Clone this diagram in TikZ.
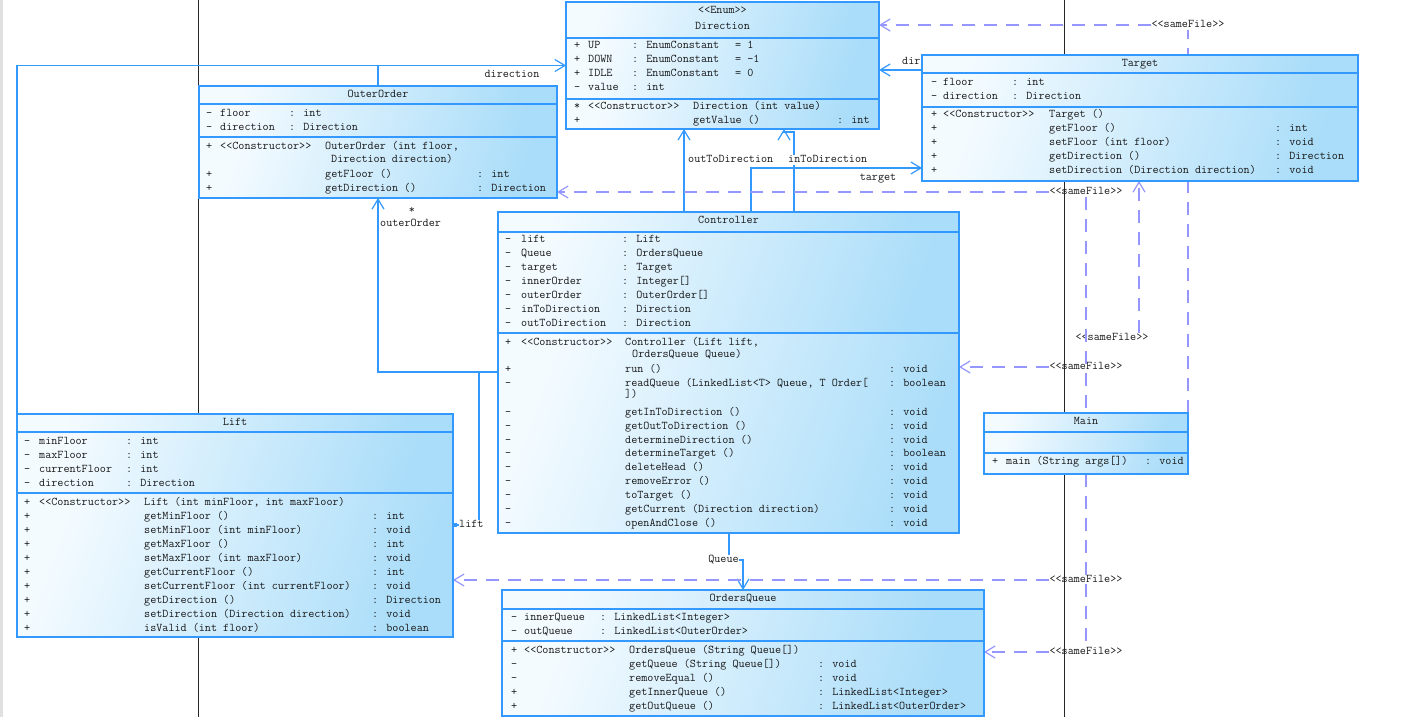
\documentclass[tikz,border=0pt]{standalone}
\usepackage{fontspec}
\usetikzlibrary{arrows.meta, backgrounds}

\definecolor{umlblue}{RGB}{51,153,255}
\definecolor{umllight}{RGB}{244,251,255}
\definecolor{umldark}{RGB}{170,221,249}
\definecolor{samefile}{RGB}{150,150,255}
\definecolor{umltext}{RGB}{25,25,25}

\newcommand{\umlfont}{\ttfamily\fontsize{11.8}{14}\selectfont\addfontfeatures{FakeBold=0.35}}

\tikzset{
  frame/.style={rectangle, inner sep=0pt, outer sep=0pt, anchor=north west},
  comp/.style={rectangle, draw=umlblue, line width=1.2pt, inner sep=0pt, outer sep=0pt,
    anchor=north west, top color=umllight, bottom color=umldark, shading angle=70},
  txt/.style={font=\umlfont, text=umltext, inner sep=0pt, text height=8pt, text depth=2.5pt, anchor=west},
  title/.style={txt, anchor=center},
  lbl/.style={txt, anchor=center},
  pageline/.style={draw=black!85, line width=1pt},
  assocline/.style={draw=umlblue, line width=1.2pt},
  assoc/.style={assocline, -{Straight Barb[length=10pt,width=12pt]}},
  depline/.style={draw=samefile, line width=1.2pt, dash pattern=on 13pt off 9pt},
  dep/.style={depline, -{Straight Barb[length=10pt,width=12pt]}}
}

% one class: name, left, top, width, heights of the three compartments
\newcommand{\umlclass}[7]{%
  \pgfmathsetmacro{\classh}{#5+#6+#7}%
  \node[frame, minimum width=#4pt, minimum height=\classh pt] (#1) at (#2,#3) {};
  \node[comp, minimum width=#4pt, minimum height=#5pt] (#1-h) at (#2,#3) {};
  \node[comp, minimum width=#4pt, minimum height=#6pt] (#1-a) at (#1-h.south west) {};
  \node[comp, minimum width=#4pt, minimum height=#7pt] (#1-m) at (#1-a.south west) {};
}

\begin{document}
\begin{tikzpicture}[x=1pt, y=-1pt]
\useasboundingbox (0,0) rectangle (1423,717);

% Direction
\umlclass{dir}{566}{2}{313}{36}{61}{30}
\node[title] (dir-st) at (722.5,11) {<<Enum>>};
\node[title] (dir-t) at (722.5,27) {Direction};
\foreach \vs/\nm/\ty/\ex [count=\i] in {+/UP/{: EnumConstant}/{= 1}, +/DOWN/{: EnumConstant}/{= -1},
    +/IDLE/{: EnumConstant}/{= 0}, -/value/{: int}/{}} {
  \node[txt] (dir-av\i) at (574,{32+14*\i}) {\vs};
  \node[txt] (dir-an\i) at (588,{32+14*\i}) {\nm};
  \node[txt] (dir-at\i) at (632,{32+14*\i}) {\ty};
  \node[txt] (dir-ae\i) at (735,{32+14*\i}) {\ex};
}
\node[txt] (dir-mv1) at (574,107) {*};
\node[txt] (dir-ms1) at (588,107) {<<Constructor>>};
\node[txt] (dir-mn1) at (693,107) {Direction (int value)};
\node[txt] (dir-mv2) at (574,121) {+};
\node[txt] (dir-mn2) at (693,121) {getValue ()};
\node[txt] (dir-mr2) at (837,121) {: int};

% OuterOrder
\umlclass{outer}{199}{86}{358}{18}{33}{61}
\node[title] (outer-t) at (378,95) {OuterOrder};
\foreach \nm/\ty [count=\i] in {floor/{: int}, direction/{: Direction}} {
  \node[txt] (outer-av\i) at (206,{100+14*\i}) {-};
  \node[txt] (outer-an\i) at (220,{100+14*\i}) {\nm};
  \node[txt] (outer-at\i) at (289,{100+14*\i}) {\ty};
}
\node[txt] (outer-mv1) at (206,147) {+};
\node[txt] (outer-ms1) at (220,147) {<<Constructor>>};
\node[txt] (outer-mn1) at (325,147) {OuterOrder (int floor,};
\node[txt] (outer-mc1) at (331,160) {Direction direction)};
\node[txt] (outer-mv2) at (206,175) {+};
\node[txt] (outer-mn2) at (325,175) {getFloor ()};
\node[txt] (outer-mr2) at (477,175) {: int};
\node[txt] (outer-mv3) at (206,189) {+};
\node[txt] (outer-mn3) at (325,189) {getDirection ()};
\node[txt] (outer-mr3) at (477,189) {: Direction};

% Target
\umlclass{target}{922}{55}{436}{18}{34}{74}
\node[title] (target-t) at (1140,64) {Target};
\foreach \nm/\ty [count=\i] in {floor/{: int}, direction/{: Direction}} {
  \node[txt] (target-av\i) at (931,{69+14*\i}) {-};
  \node[txt] (target-an\i) at (943,{69+14*\i}) {\nm};
  \node[txt] (target-at\i) at (1012,{69+14*\i}) {\ty};
}
\node[txt] (target-ms1) at (943,115) {<<Constructor>>};
\foreach \nm/\rt [count=\i] in {{Target ()}/{}, {getFloor ()}/{: int}, {setFloor (int floor)}/{: void},
    {getDirection ()}/{: Direction}, {setDirection (Direction direction)}/{: void}} {
  \node[txt] (target-mv\i) at (931,{101+14*\i}) {+};
  \node[txt] (target-mn\i) at (1049,{101+14*\i}) {\nm};
  \node[txt] (target-mr\i) at (1275,{101+14*\i}) {\rt};
}

% Controller
\umlclass{ctrl}{498}{212}{461}{20}{101}{200}
\node[title] (ctrl-t) at (728.5,221) {Controller};
\foreach \nm/\ty [count=\i] in {lift/{: Lift}, Queue/{: OrdersQueue}, target/{: Target},
    innerOrder/{: Integer[]}, outerOrder/{: OuterOrder[]}, inToDirection/{: Direction},
    outToDirection/{: Direction}} {
  \node[txt] (ctrl-av\i) at (505,{226+14*\i}) {-};
  \node[txt] (ctrl-an\i) at (521,{226+14*\i}) {\nm};
  \node[txt] (ctrl-at\i) at (622,{226+14*\i}) {\ty};
}
\node[txt] (ctrl-mv0) at (505,343) {+};
\node[txt] (ctrl-ms0) at (521,343) {<<Constructor>>};
\node[txt] (ctrl-mn0) at (625,343) {Controller (Lift lift,};
\node[txt] (ctrl-mc0) at (632,355) {OrdersQueue Queue)};
\foreach \y/\vs/\nm/\rt [count=\i] in {370/+/{run ()}/{: void},
    384/-/{readQueue (LinkedList<T> Queue, T Order[}/{: boolean},
    413/-/{getInToDirection ()}/{: void}, 427/-/{getOutToDirection ()}/{: void},
    441/-/{determineDirection ()}/{: void}, 454/-/{determineTarget ()}/{: boolean},
    468/-/{deleteHead ()}/{: void}, 482/-/{removeError ()}/{: void},
    496/-/{toTarget ()}/{: void}, 510/-/{getCurrent (Direction direction)}/{: void},
    524/-/{openAndClose ()}/{: void}} {
  \node[txt] (ctrl-mv\i) at (505,\y) {\vs};
  \node[txt] (ctrl-mn\i) at (625,\y) {\nm};
  \node[txt] (ctrl-mr\i) at (889,\y) {\rt};
}
\node[txt] (ctrl-mc2) at (625,395) {])};

% Main
\umlclass{mainc}{984}{413}{204}{19}{21}{21}
\node[title] (mainc-t) at (1086,422) {Main};
\node[txt] (mainc-mv1) at (992,462) {+};
\node[txt] (mainc-mn1) at (1006,462) {main (String args[])};
\node[txt] (mainc-mr1) at (1145,462) {: void};

% Lift
\umlclass{lift}{17}{414}{436}{18}{61}{144}
\node[title] (lift-t) at (235,423) {Lift};
\foreach \nm/\ty [count=\i] in {minFloor/{: int}, maxFloor/{: int}, currentFloor/{: int},
    direction/{: Direction}} {
  \node[txt] (lift-av\i) at (24,{428+14*\i}) {-};
  \node[txt] (lift-an\i) at (39,{428+14*\i}) {\nm};
  \node[txt] (lift-at\i) at (126,{428+14*\i}) {\ty};
}
\node[txt] (lift-ms1) at (39,503) {<<Constructor>>};
\foreach \nm/\rt [count=\i] in {{Lift (int minFloor, int maxFloor)}/{}, {getMinFloor ()}/{: int},
    {setMinFloor (int minFloor)}/{: void}, {getMaxFloor ()}/{: int},
    {setMaxFloor (int maxFloor)}/{: void}, {getCurrentFloor ()}/{: int},
    {setCurrentFloor (int currentFloor)}/{: void}, {getDirection ()}/{: Direction},
    {setDirection (Direction direction)}/{: void}, {isValid (int floor)}/{: boolean}} {
  \node[txt] (lift-mv\i) at (24,{489+14*\i}) {+};
  \node[txt] (lift-mn\i) at (144,{489+14*\i}) {\nm};
  \node[txt] (lift-mr\i) at (372,{489+14*\i}) {\rt};
}

% OrdersQueue
\umlclass{oq}{502}{590}{482}{19}{32}{75}
\node[title] (oq-t) at (743,599) {OrdersQueue};
\foreach \nm/\ty [count=\i] in {innerQueue/{: LinkedList<Integer>}, outQueue/{: LinkedList<OuterOrder>}} {
  \node[txt] (oq-av\i) at (511,{604+14*\i}) {-};
  \node[txt] (oq-an\i) at (524,{604+14*\i}) {\nm};
  \node[txt] (oq-at\i) at (600,{604+14*\i}) {\ty};
}
\node[txt] (oq-ms1) at (524,651) {<<Constructor>>};
\foreach \vs/\nm/\rt [count=\i] in {+/{OrdersQueue (String Queue[])}/{}, -/{getQueue (String Queue[])}/{: void},
    -/{removeEqual ()}/{: void}, +/{getInnerQueue ()}/{: LinkedList<Integer>},
    +/{getOutQueue ()}/{: LinkedList<OuterOrder>}} {
  \node[txt] (oq-mv\i) at (511,{637+14*\i}) {\vs};
  \node[txt] (oq-mn\i) at (629,{637+14*\i}) {\nm};
  \node[txt] (oq-mr\i) at (818,{637+14*\i}) {\rt};
}

\begin{pgfonlayer}{background}
  \fill[white] (0,0) rectangle (1423,717);
  \fill[black!12] (0,0) rectangle (3,717);
  \draw[pageline] (198,0) -- (198,717);
  \draw[pageline] (1064,0) -- (1064,717);

  % associations
  \draw[assoc] (outer.north) |- (dir.west);
  \draw[assocline] (lift.north west) |- (outer.north |- dir.west);
  \node[lbl] (lbl-dir1) at (512,75) {direction};
  \node[txt] (lbl-dir2) at (902,62) {direction};
  \draw[assoc] (target.west |- 0,70) -- (dir.east |- 0,70);

  \draw[assoc] (ctrl.north -| 684,0) -- (dir.south -| 684,0);
  \node[txt] (lbl-out) at (688,160) {outToDirection};
  \draw[assoc] (ctrl.north -| 794,0) |- ([yshift=-3pt]dir.south -| 784,0) -- (dir.south -| 784,0);
  \node[txt, fill=white] (lbl-in) at (788,160) {inToDirection};
  \draw[assoc] (ctrl.north -| 751,0) |- (target.west |- 0,168);
  \node[lbl] (lbl-tgt) at (878,178) {target};

  \draw[assoc] (ctrl.west |- 0,372) -| (outer.south);
  \node[lbl] (lbl-star) at (412,211) {*};
  \node[txt] (lbl-oo) at (380,224) {outerOrder};
  \draw[assocline, -{Square[length=3.5pt,width=3.5pt]}] (ctrl.west |- 0,372) -| (479,525) -- (lift.east |- 0,525);
  \node[txt, fill=white] (lbl-lift) at (459,525) {lift};
  \draw[assoc] (ctrl.south -| 729,0) |- (743,560) -- (oq.north -| 743,0);
  \node[lbl, fill=white] (lbl-q) at (723.5,560) {Queue};

  % sameFile dependencies of Main
  \node[lbl] (sf1) at (1086,192) {<<sameFile>>};
  \node[lbl] (sf2) at (1112,338) {<<sameFile>>};
  \node[lbl] (sf3) at (1086,367) {<<sameFile>>};
  \node[lbl] (sf4) at (1188,25) {<<sameFile>>};
  \node[lbl] (sf5) at (1086,580) {<<sameFile>>};
  \node[lbl] (sf6) at (1086,652) {<<sameFile>>};
  \draw[depline] (sf1.south) -- (mainc.north);
  \draw[depline] (mainc.south) -- (sf6.north);
  \draw[depline] (mainc.north east) -- (sf4.south);
  \draw[dep] (sf1.west) -- (outer.east |- sf1);
  \draw[dep] (sf2.north -| 1139,0) -- (target.south -| 1139,0);
  \draw[dep] (sf3.west) -- (ctrl.east |- sf3);
  \draw[dep] (sf4.west) -- (dir.east |- sf4);
  \draw[dep] (sf5.west) -- (lift.east |- sf5);
  \draw[dep] (sf6.west) -- (oq.east |- sf6);
\end{pgfonlayer}
\end{tikzpicture}
\end{document}
